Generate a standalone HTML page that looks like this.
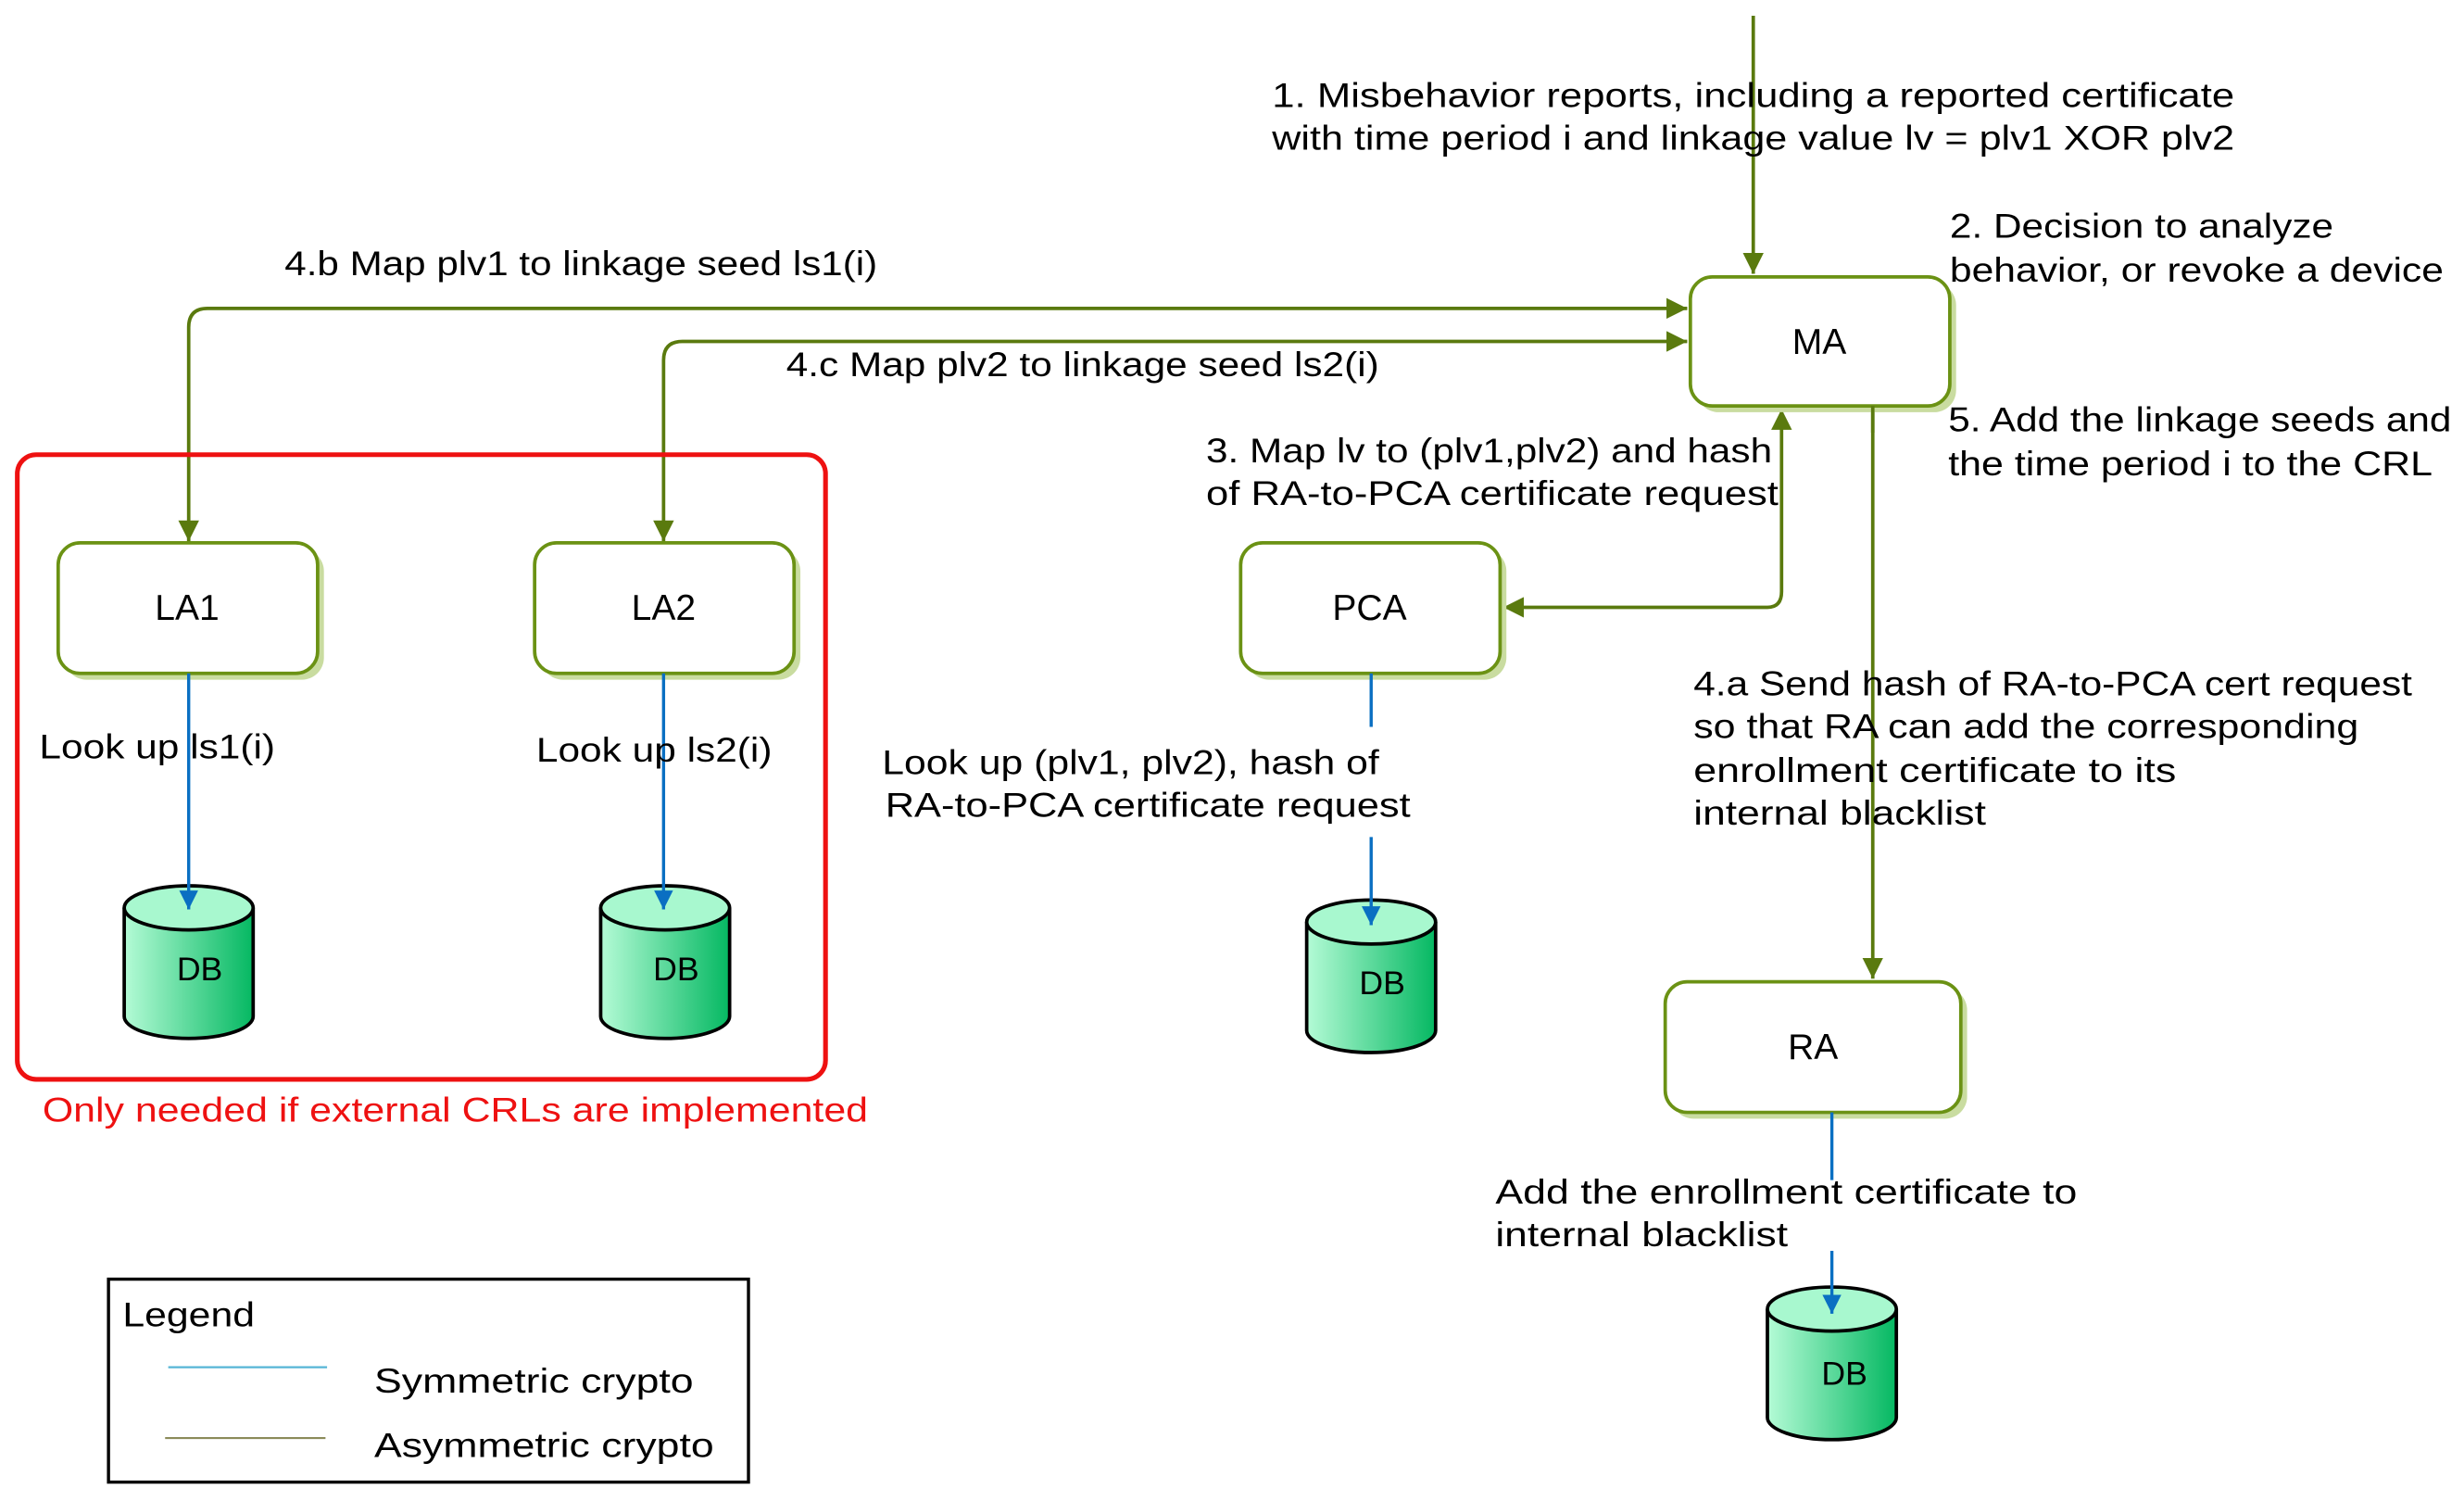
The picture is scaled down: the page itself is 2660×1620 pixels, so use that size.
<!DOCTYPE html>
<html><head><meta charset="utf-8"><style>
html,body{margin:0;padding:0;background:#fff;}
svg{display:block;}
text{font-family:"Liberation Sans",sans-serif;fill:#000;}
</style></head><body>
<svg width="2660" height="1620" viewBox="0 0 1567 954" preserveAspectRatio="none" xmlns="http://www.w3.org/2000/svg">
<defs>
<marker id="ag" viewBox="0 0 10 10" refX="10" refY="5" markerWidth="6" markerHeight="6" orient="auto-start-reverse"><path d="M0,0 L10,5 L0,10 z" fill="#5a7a0e"/></marker>
<marker id="ab" viewBox="0 0 10 10" refX="10" refY="5" markerWidth="6" markerHeight="6" orient="auto"><path d="M0,0 L10,5 L0,10 z" fill="#0a6fc2"/></marker>
<linearGradient id="dbg" x1="0" x2="1" y1="0" y2="0"><stop offset="0" stop-color="#b4fbd6"/><stop offset="1" stop-color="#05b862"/></linearGradient>
</defs>
<g fill="none" stroke-width="2.2" stroke="#5a7a0e">
<path d="M1115,10 V174" marker-end="url(#ag)"/>
<path d="M1073,196 H132 Q120,196 120,208 V344" marker-start="url(#ag)" marker-end="url(#ag)"/>
<path d="M1073,217 H434 Q422,217 422,229 V344" marker-start="url(#ag)" marker-end="url(#ag)"/>
<path d="M956,386 H1124 Q1133,386 1133,376 V260" marker-start="url(#ag)" marker-end="url(#ag)"/>
<path d="M1191,258 V622" marker-end="url(#ag)"/>
</g>
<rect x="11" y="289" width="514" height="397" rx="12" fill="none" stroke="#ee1111" stroke-width="3"/>
<g>
<rect x="1079" y="180" width="165" height="82" rx="14" fill="#c9dca0"/>
<rect x="1075" y="176" width="165" height="82" rx="14" fill="#fff" stroke="#6b9214" stroke-width="2.2"/>
<rect x="41" y="349" width="165" height="83" rx="14" fill="#c9dca0"/>
<rect x="37" y="345" width="165" height="83" rx="14" fill="#fff" stroke="#6b9214" stroke-width="2.2"/>
<rect x="344" y="349" width="165" height="83" rx="14" fill="#c9dca0"/>
<rect x="340" y="345" width="165" height="83" rx="14" fill="#fff" stroke="#6b9214" stroke-width="2.2"/>
<rect x="793" y="349" width="165" height="83" rx="14" fill="#c9dca0"/>
<rect x="789" y="345" width="165" height="83" rx="14" fill="#fff" stroke="#6b9214" stroke-width="2.2"/>
<rect x="1063" y="628" width="188" height="83" rx="14" fill="#c9dca0"/>
<rect x="1059" y="624" width="188" height="83" rx="14" fill="#fff" stroke="#6b9214" stroke-width="2.2"/>
</g>
<path d="M1191,258 V275" stroke="#5a7a0e" stroke-width="2.2"/>
<g font-size="23" text-anchor="middle">
<text x="1157" y="225">MA</text>
<text x="119" y="394">LA1</text>
<text x="422" y="394">LA2</text>
<text x="871" y="394">PCA</text>
<text x="1153" y="673">RA</text>
</g>
<g stroke="#000" stroke-width="2.2">
<path d="M79,577 V646 A41,14 0 0 0 161,646 V577" fill="url(#dbg)"/><ellipse cx="120" cy="577" rx="41" ry="14" fill="#a8f8cf"/>
<path d="M382,577 V646 A41,14 0 0 0 464,646 V577" fill="url(#dbg)"/><ellipse cx="423" cy="577" rx="41" ry="14" fill="#a8f8cf"/>
<path d="M831,586 V655 A41,14 0 0 0 913,655 V586" fill="url(#dbg)"/><ellipse cx="872" cy="586" rx="41" ry="14" fill="#a8f8cf"/>
<path d="M1124,832 V901 A41,14 0 0 0 1206,901 V832" fill="url(#dbg)"/><ellipse cx="1165" cy="832" rx="41" ry="14" fill="#a8f8cf"/>
</g>
<g font-size="21" text-anchor="middle">
<text x="127" y="623">DB</text><text x="430" y="623">DB</text><text x="879" y="632">DB</text><text x="1173" y="880">DB</text>
</g>
<g fill="none" stroke="#0a6fc2" stroke-width="2">
<path d="M120,428 V578" marker-end="url(#ab)"/>
<path d="M422,428 V578" marker-end="url(#ab)"/>
<path d="M872,428 V462"/><path d="M872,532 V588" marker-end="url(#ab)"/>
<path d="M1165,707 V750"/><path d="M1165,795 V835" marker-end="url(#ab)"/>
</g>
<g font-size="22">
<text x="809" y="68" textLength="612" lengthAdjust="spacingAndGlyphs">1. Misbehavior reports, including a reported certificate</text>
<text x="809" y="95" textLength="612" lengthAdjust="spacingAndGlyphs">with time period i and  linkage value lv = plv1 XOR plv2</text>
<text x="1240" y="151" textLength="244" lengthAdjust="spacingAndGlyphs">2. Decision to analyze</text>
<text x="1240" y="179" textLength="314" lengthAdjust="spacingAndGlyphs">behavior, or revoke a device</text>
<text x="181" y="175" textLength="377" lengthAdjust="spacingAndGlyphs">4.b Map plv1 to linkage seed ls1(i)</text>
<text x="500" y="239" textLength="377" lengthAdjust="spacingAndGlyphs">4.c Map plv2 to linkage seed ls2(i)</text>
<text x="1239" y="274" textLength="320" lengthAdjust="spacingAndGlyphs">5. Add the linkage seeds and</text>
<text x="1239" y="302" textLength="308" lengthAdjust="spacingAndGlyphs">the time period i to the CRL</text>
<text x="767" y="294" textLength="360" lengthAdjust="spacingAndGlyphs">3. Map lv to (plv1,plv2) and hash</text>
<text x="767" y="321" textLength="364" lengthAdjust="spacingAndGlyphs">of RA-to-PCA certificate request</text>
<text x="25" y="482" textLength="150" lengthAdjust="spacingAndGlyphs">Look up ls1(i)</text>
<text x="341" y="484" textLength="150" lengthAdjust="spacingAndGlyphs">Look up ls2(i)</text>
<text x="561" y="492" textLength="316" lengthAdjust="spacingAndGlyphs">Look up (plv1, plv2), hash of</text>
<text x="563" y="519" textLength="334" lengthAdjust="spacingAndGlyphs">RA-to-PCA certificate request</text>
<text x="1077" y="442" textLength="457" lengthAdjust="spacingAndGlyphs">4.a Send hash of RA-to-PCA cert request</text>
<text x="1077" y="469" textLength="423" lengthAdjust="spacingAndGlyphs">so that RA can add the corresponding</text>
<text x="1077" y="497" textLength="307" lengthAdjust="spacingAndGlyphs">enrollment certificate to its</text>
<text x="1077" y="524" textLength="186" lengthAdjust="spacingAndGlyphs">internal blacklist</text>
<text x="951" y="765" textLength="370" lengthAdjust="spacingAndGlyphs">Add the enrollment certificate to</text>
<text x="951" y="792" textLength="186" lengthAdjust="spacingAndGlyphs">internal blacklist</text>
<text x="27" y="713" style="fill:#ee1111" textLength="525" lengthAdjust="spacingAndGlyphs">Only needed if external CRLs are implemented</text>
</g>
<rect x="69" y="813" width="407" height="129" fill="#fff" stroke="#000" stroke-width="2"/>
<line x1="107" y1="869" x2="208" y2="869" stroke="#56b6d6" stroke-width="1.3"/>
<line x1="105" y1="914" x2="207" y2="914" stroke="#8b8b5a" stroke-width="1.3"/>
<g font-size="22">
<text x="78" y="843" textLength="84" lengthAdjust="spacingAndGlyphs">Legend</text>
<text x="238" y="885" textLength="203" lengthAdjust="spacingAndGlyphs">Symmetric crypto</text>
<text x="238" y="926" textLength="216" lengthAdjust="spacingAndGlyphs">Asymmetric crypto</text>
</g>
</svg>
</body></html>
